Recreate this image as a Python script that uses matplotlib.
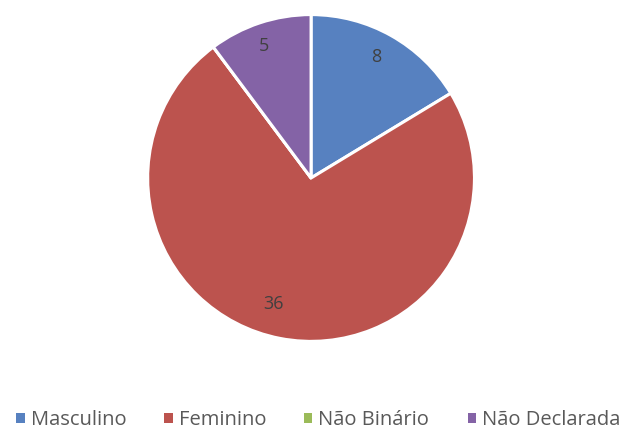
import numpy as np
import matplotlib
matplotlib.use('Agg')
import matplotlib.pyplot as plt
from matplotlib.patches import Patch

# Data
categories = ['Masculino', 'Feminino', 'Não Binário', 'Não Declarada']
values = [8, 36, 0, 5]
colors = ['#5781C0', '#BC534E', '#9BBB59', '#8463A6']

plt.rcParams['font.family'] = ['Open Sans', 'DejaVu Sans']

fig = plt.figure(figsize=(6.24, 4.32), dpi=100)
ax = fig.add_axes([0.234, 0.206, 0.529, 0.764])

wedges, _ = ax.pie(values, colors=colors, startangle=90, counterclock=False,
                   wedgeprops=dict(edgecolor='white', linewidth=2.2))
ax.set_xlim(-1.01, 1.01)
ax.set_ylim(-1.01, 1.01)
ax.set_aspect('equal')

# Data labels (Excel-style placement)
total = sum(values)
start = 90.0
for w, v in zip(wedges, values):
    span = v / total * 360
    mid = start - span / 2
    start -= span
    if v == 0:
        continue
    r = 0.85
    if v == max(values):
        mid = -105  # Excel pushes the big slice label towards the bottom-left
        r = 0.8
    ax.text(r * np.cos(np.radians(mid)) - 0.02, r * np.sin(np.radians(mid)), str(v),
            ha='center', va='center', fontsize=13, color='#404040')

handles = [Patch(facecolor=c, edgecolor='none') for c in colors]
fig.legend(handles, categories, loc='center', bbox_to_anchor=(0.51, 0.028),
           ncol=4, frameon=False, fontsize=14.5, handlelength=0.4, handleheight=0.4,
           handletextpad=0.3, columnspacing=1.9, labelcolor='#595959')

fig.savefig('out.png', dpi=100)
